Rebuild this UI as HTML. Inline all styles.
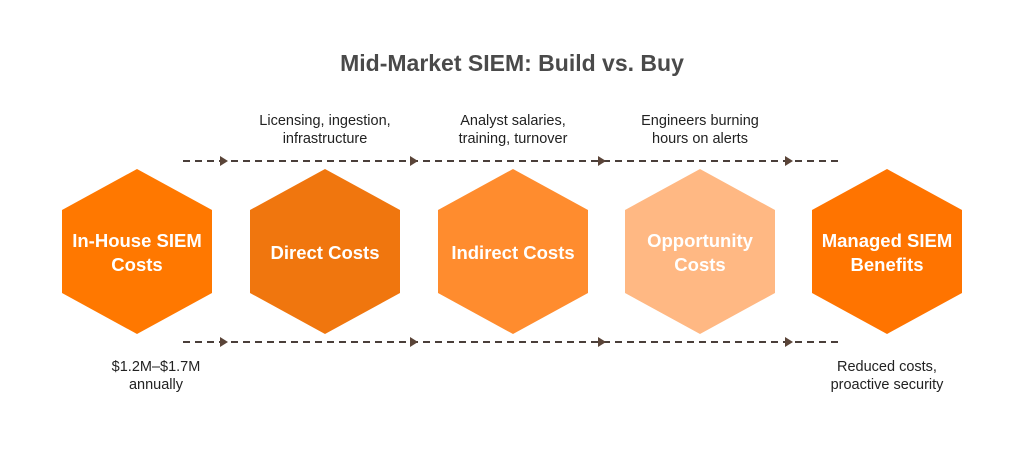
<!DOCTYPE html>
<html><head><style>
body{margin:0;background:#fff;}
svg{display:block;font-family:"Liberation Sans",Arial,sans-serif;}
</style></head><body>
<svg width="1024" height="451" viewBox="0 0 1024 451" xmlns="http://www.w3.org/2000/svg">
<text x="512" y="71" text-anchor="middle" font-size="23" font-weight="bold" fill="#4a4a4a">Mid-Market SIEM: Build vs. Buy</text>
<g stroke="#4a3f3a" stroke-width="2" stroke-dasharray="7,5">
<line x1="183" y1="161" x2="842" y2="161"/>
<line x1="183" y1="342" x2="842" y2="342"/>
</g>
<g fill="#5a4438">
<polygon points="220,156 228,161 220,166"/><polygon points="410,156 418,161 410,166"/><polygon points="598,156 606,161 598,166"/><polygon points="785,156 793,161 785,166"/>
<polygon points="220,337 228,342 220,347"/><polygon points="410,337 418,342 410,347"/><polygon points="598,337 606,342 598,347"/><polygon points="785,337 793,342 785,347"/>
</g>
<g>
<polygon points="137,169 212,210 212,293 137,334 62,293 62,210" fill="#ff7800"/>
<polygon points="325,169 400,210 400,293 325,334 250,293 250,210" fill="#f0760e"/>
<polygon points="513,169 588,210 588,293 513,334 438,293 438,210" fill="#ff8c2e"/>
<polygon points="700,169 775,210 775,293 700,334 625,293 625,210" fill="#ffb883"/>
<polygon points="887,169 962,210 962,293 887,334 812,293 812,210" fill="#ff7400"/>
</g>
<g fill="#fff" font-size="18.5" font-weight="bold" text-anchor="middle">
<text x="137" y="247">In-House SIEM</text><text x="137" y="271">Costs</text>
<text x="325" y="259">Direct Costs</text>
<text x="513" y="259">Indirect Costs</text>
<text x="700" y="247">Opportunity</text><text x="700" y="271">Costs</text>
<text x="887" y="247">Managed SIEM</text><text x="887" y="271">Benefits</text>
</g>
<g fill="#222" font-size="14.5" text-anchor="middle">
<text x="325" y="125">Licensing, ingestion,</text><text x="325" y="143">infrastructure</text>
<text x="513" y="125">Analyst salaries,</text><text x="513" y="143">training, turnover</text>
<text x="700" y="125">Engineers burning</text><text x="700" y="143">hours on alerts</text>
<text x="156" y="371">$1.2M–$1.7M</text><text x="156" y="389">annually</text>
<text x="887" y="371">Reduced costs,</text><text x="887" y="389">proactive security</text>
</g>
</svg>
</body></html>
